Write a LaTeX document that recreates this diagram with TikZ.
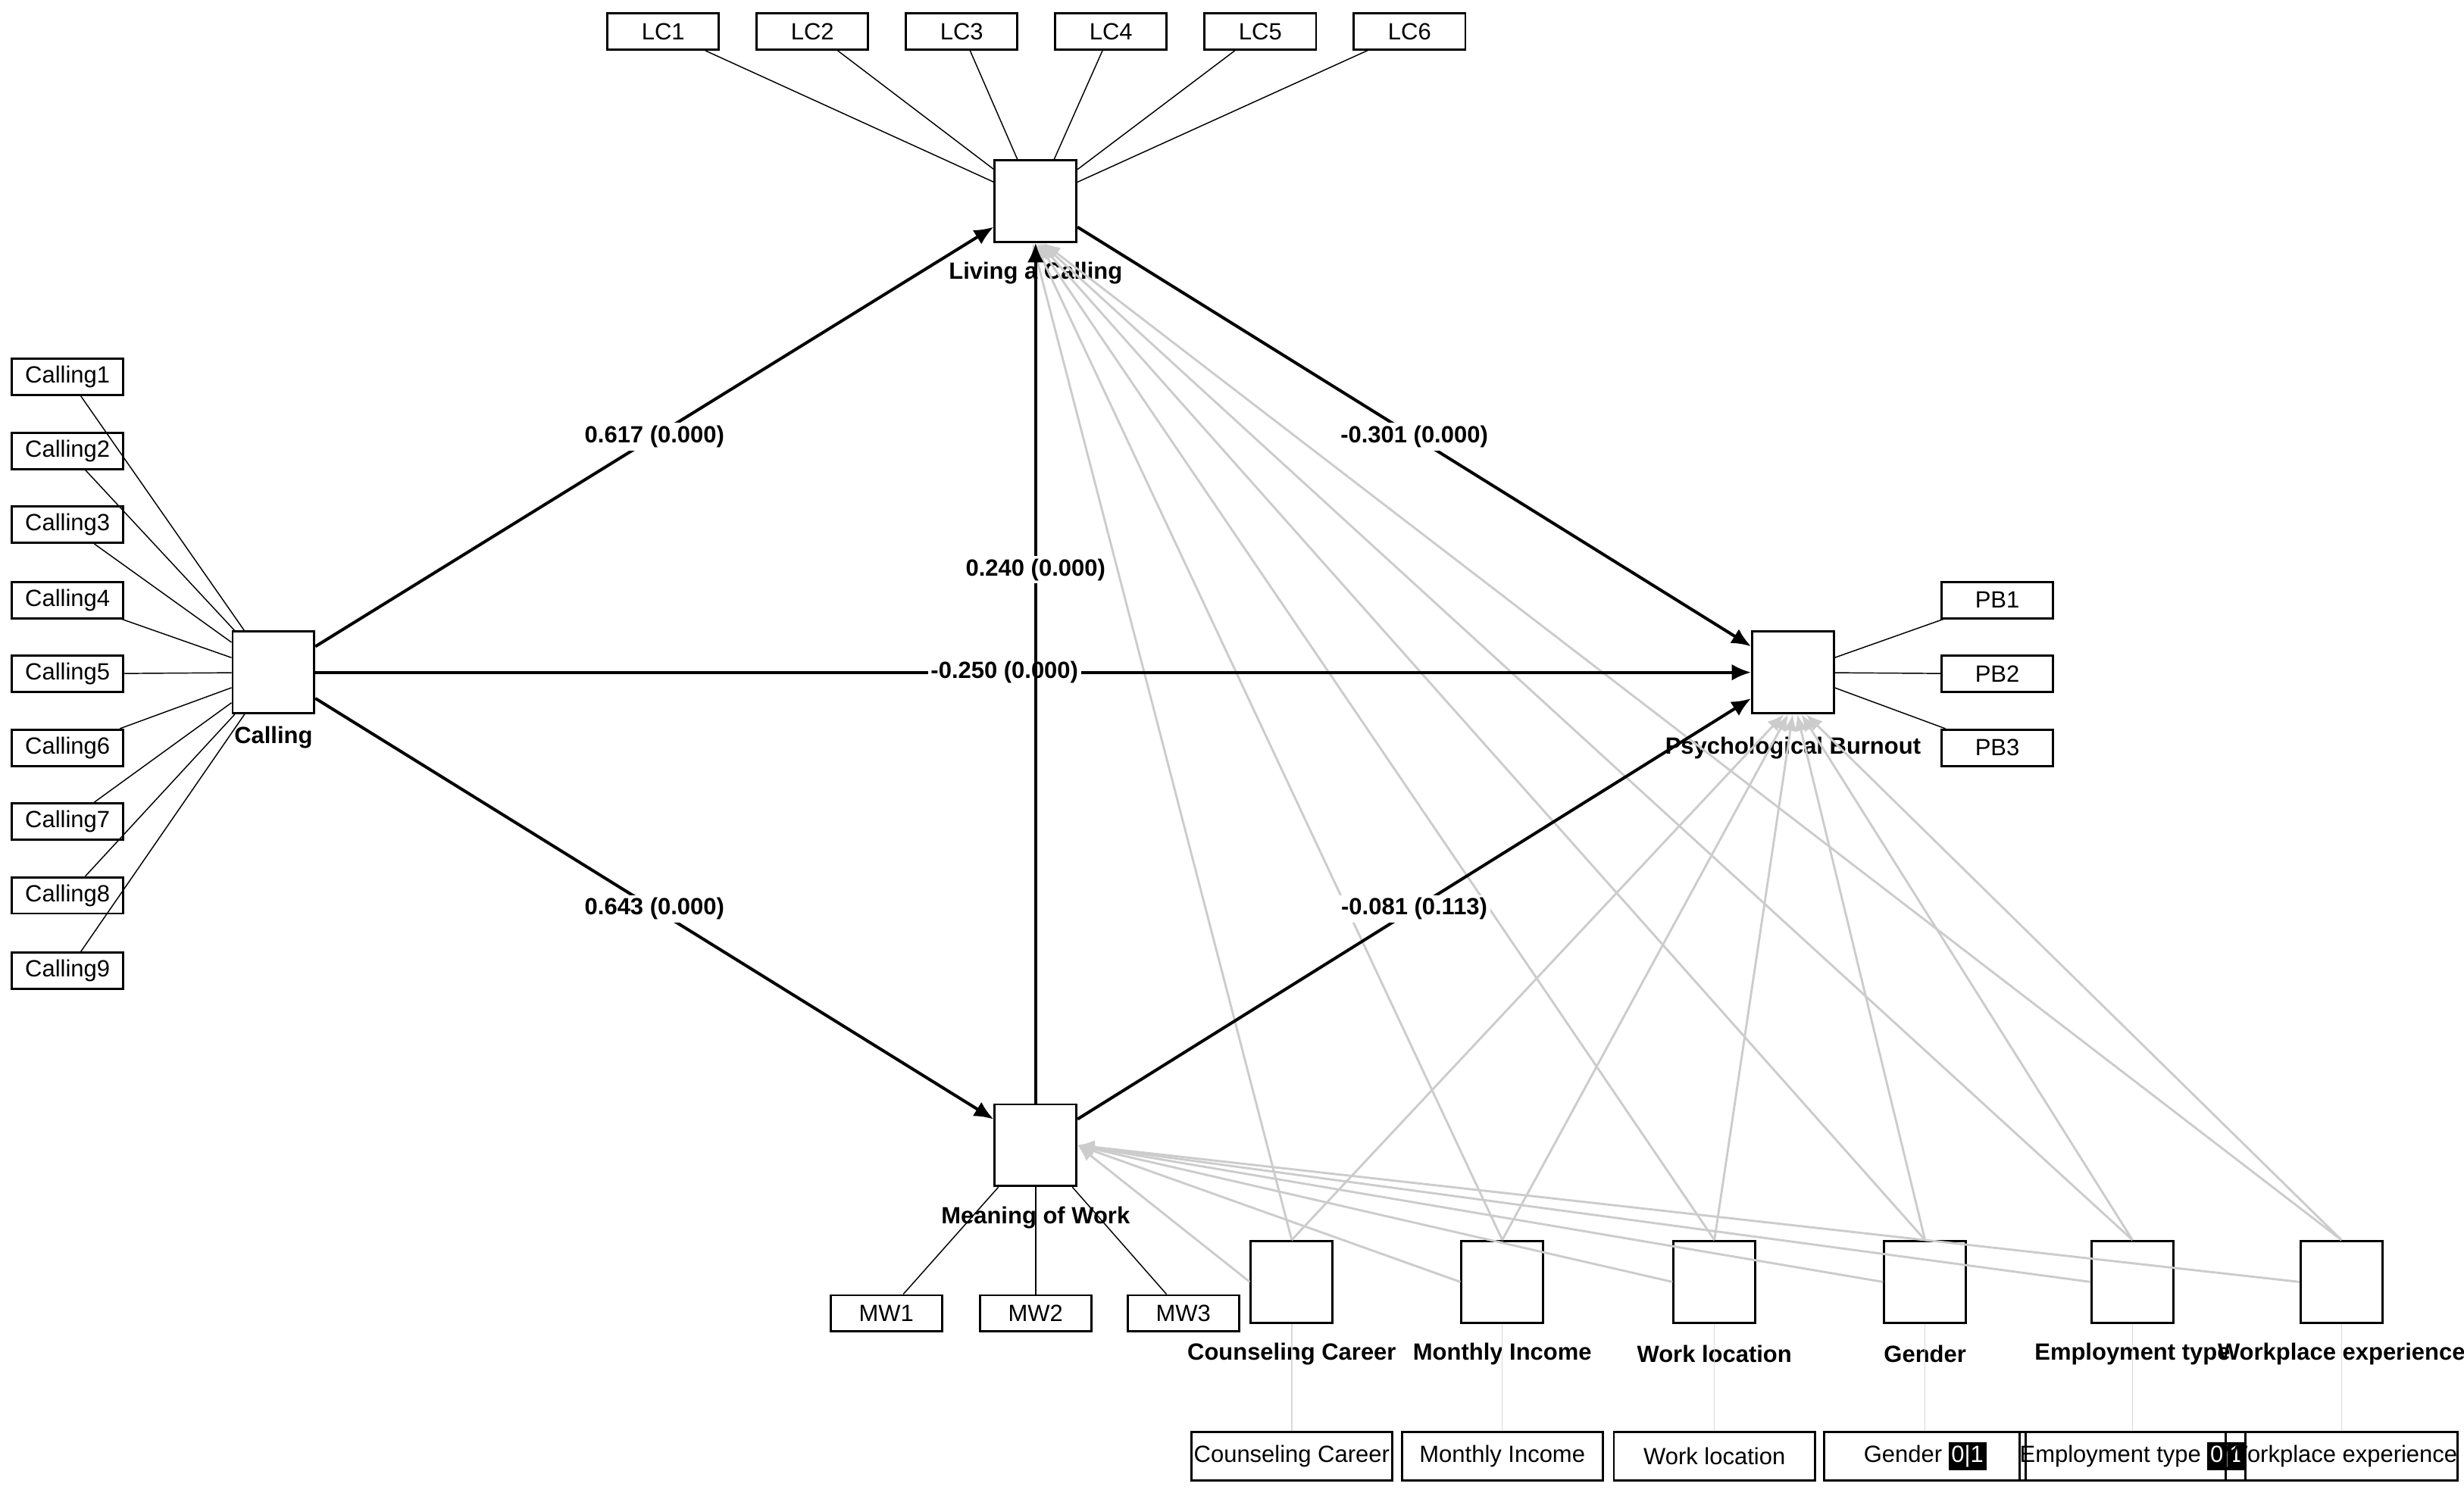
\documentclass[tikz,border=0pt]{standalone}
\usepackage{fontspec}
\setmainfont{Liberation Sans}
\usetikzlibrary{arrows.meta}
\begin{document}
\begin{tikzpicture}[x=0.02cm,y=-0.02cm,
  ind/.style={draw,thick,minimum width=1.42cm,minimum height=0.46cm,inner sep=0pt,font=\fontsize{8.5}{10}\selectfont},
  ctl/.style={ind,minimum width=2.56cm,minimum height=0.62cm},
  lv/.style={draw,thick,minimum size=1.04cm,inner sep=0pt},
  lab/.style={font=\bfseries\fontsize{8.5}{10}\selectfont},
  path/.style={-{Latex[length=7pt,width=6pt]},line width=1.1pt},
  load/.style={thin},
  cov/.style={gray!35,line width=0.8pt},
  covar/.style={cov,-{Latex[length=6pt,width=5pt]},draw=gray!40},
  coef/.style={lab,fill=white,inner sep=1pt}]
\useasboundingbox (0,0) rectangle (1568,952);
% latent variables
\node[lv] (cal) at (174,428) {};
\node[lab,below=1pt] at (cal.south) {Calling};
\node[lv] (lac) at (659,128) {};
\node[lab] at (659,174) {Living a Calling};
\node[lv] (mow) at (659,729) {};
\node[lab] at (659,775) {Meaning of Work};
\node[lv] (pb) at (1141,428) {};
\node[lab] at (1141,476) {Psychological Burnout};
% indicators
\foreach \i/\y in {1/240,2/287,3/334,4/382,5/429,6/476,7/523,8/570,9/618}{
  \node[ind] (c\i) at (43,\y) {Calling\i};
  \draw[load] (c\i) -- (cal);}
\foreach \i/\x in {1/422,2/517,3/612,4/707,5/802,6/897}{
  \node[ind] (lc\i) at (\x,20) {LC\i};
  \draw[load] (lc\i) -- (lac);}
\foreach \i/\x in {1/564,2/659,3/753}{
  \node[ind] (mw\i) at (\x,836) {MW\i};
  \draw[load] (mw\i) -- (mow);}
\foreach \i/\y in {1/382,2/429,3/476}{
  \node[ind] (pb\i) at (1271,\y) {PB\i};
  \draw[load] (pb\i) -- (pb);}
% control variables
\def\blk#1{\colorbox{black}{\textcolor{white}{#1}}}
\foreach \n/\x/\t/\b in {k1/822/Counseling Career/Counseling Career,
  k2/956/Monthly Income/Monthly Income,
  k3/1091/Work location/Work location,
  k4/1225/Gender/{Gender {\fboxsep=1pt\blk{0|1}}},
  k5/1357/Employment type/{Employment type {\fboxsep=1pt\blk{0|1}}},
  k6/1490/Workplace experience/Workplace experience}{
  \node[lv] (\n) at (\x,816) {};
  \node[lab] (\n l) at (\x,862) {\t};
  \node[ctl] (\n b) at (\x,927) {\b};
  \draw[gray!30] (\n) -- (\n b);
  \draw[covar] (\n.north) -- ([xshift={(\x-1000)*0.006}]lac.south);
  \draw[covar] (\n.north) -- ([xshift={(\x-1100)*0.012}]pb.south);
  \draw[covar] (\n.west) -- (mow.east);}
% structural paths
\draw[path] (cal) -- node[coef,pos=0.5] {0.617 (0.000)} (lac);
\draw[path] (cal) -- node[coef,pos=0.5] {0.643 (0.000)} (mow);
\draw[path] (cal) -- node[coef,pos=0.48] {-0.250 (0.000)} (pb);
\draw[path] (mow) -- node[coef,pos=0.62] {0.240 (0.000)} (lac);
\draw[path] (lac) -- node[coef,pos=0.5] {-0.301 (0.000)} (pb);
\draw[path] (mow) -- node[coef,pos=0.5] {-0.081 (0.113)} (pb);
\end{tikzpicture}
\end{document}
